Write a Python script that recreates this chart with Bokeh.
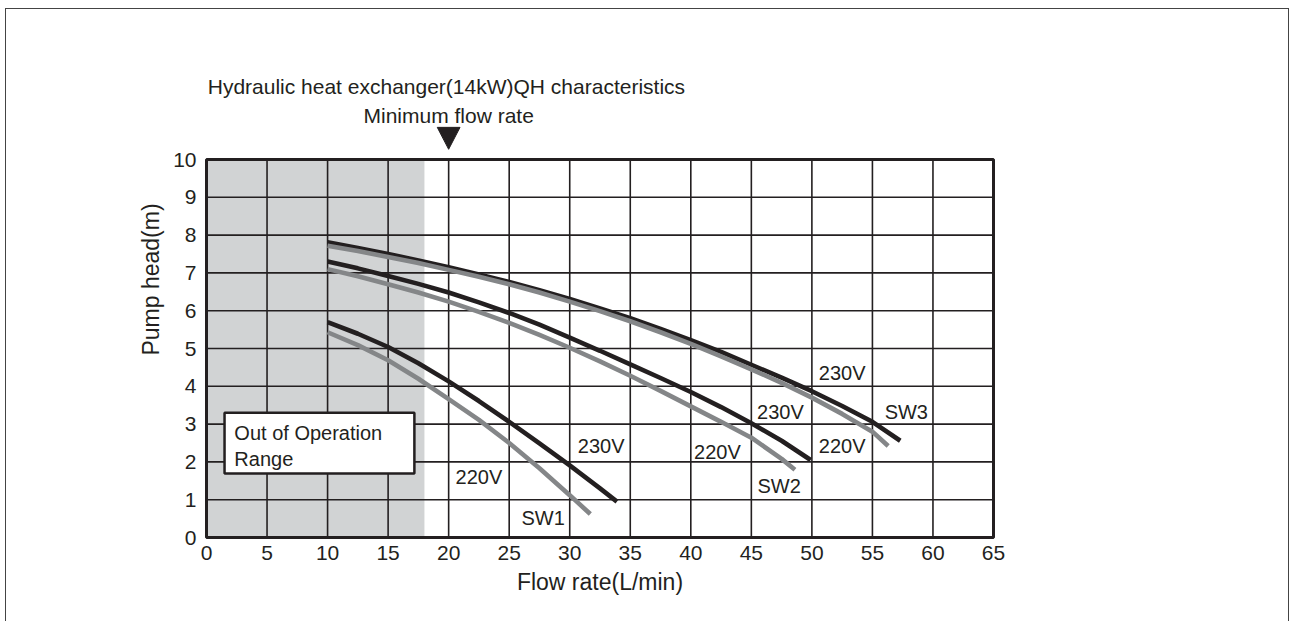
from bokeh.plotting import figure
from bokeh.models import BoxAnnotation, Label, FixedTicker, Range1d
from bokeh.core.properties import value
from bokeh.embed import file_html
from bokeh.resources import INLINE

# ---------------- data ----------------
x_ticks = [0, 5, 10, 15, 20, 25, 30, 35, 40, 45, 50, 55, 60, 65]
y_ticks = [0, 1, 2, 3, 4, 5, 6, 7, 8, 9, 10]
x_min, x_max = 0, 65
y_min, y_max = 0, 10

out_of_range_limit = 18      # L/min, shaded region upper bound
min_flow_rate = 20           # L/min, marker

sw3_230_x = [10, 12.5, 15, 17.5, 20, 22.5, 25, 27.5, 30, 32.5, 35, 37.5, 40, 42.5, 45, 47.5, 50, 52.5, 55, 57.3]
sw3_230_y = [7.81, 7.66, 7.50, 7.33, 7.15, 6.96, 6.76, 6.54, 6.31, 6.06, 5.80, 5.52, 5.22, 4.91, 4.57, 4.23, 3.87, 3.48, 3.06, 2.56]
sw3_220_x = [10, 12.5, 15, 17.5, 20, 22.5, 25, 27.5, 30, 32.5, 35, 37.5, 40, 42.5, 45, 47.5, 50, 52.5, 55, 56.3]
sw3_220_y = [7.72, 7.58, 7.42, 7.26, 7.08, 6.90, 6.70, 6.48, 6.24, 5.99, 5.72, 5.43, 5.12, 4.79, 4.45, 4.09, 3.70, 3.27, 2.80, 2.42]

sw2_230_x = [10, 12.5, 15, 17.5, 20, 22.5, 25, 27.5, 30, 32.5, 35, 37.5, 40, 42.5, 45, 47.5, 49.9]
sw2_230_y = [7.30, 7.12, 6.92, 6.71, 6.48, 6.22, 5.94, 5.63, 5.29, 4.94, 4.58, 4.22, 3.85, 3.45, 3.02, 2.56, 2.05]
sw2_220_x = [10, 12.5, 15, 17.5, 20, 22.5, 25, 27.5, 30, 32.5, 35, 37.5, 40, 42.5, 45, 47.5, 48.6]
sw2_220_y = [7.10, 6.91, 6.70, 6.48, 6.24, 5.97, 5.68, 5.36, 5.02, 4.66, 4.28, 3.88, 3.47, 3.06, 2.64, 2.08, 1.79]

sw1_230_x = [10, 12.5, 15, 17.5, 20, 22.5, 25, 27.5, 30, 32.5, 33.9]
sw1_230_y = [5.70, 5.39, 5.04, 4.61, 4.13, 3.61, 3.06, 2.49, 1.91, 1.30, 0.95]
sw1_220_x = [10, 12.5, 15, 17.5, 20, 22.5, 25, 27.5, 30, 31.7]
sw1_220_y = [5.43, 5.09, 4.69, 4.20, 3.66, 3.11, 2.50, 1.83, 1.12, 0.62]

curve_labels = ["230V", "220V", "SW1", "230V", "220V", "SW2", "230V", "220V", "SW3"]
curve_label_x = [32.6, 22.5, 27.8, 47.4, 42.2, 47.3, 52.5, 52.5, 57.8]
curve_label_y = [2.41, 1.61, 0.52, 3.33, 2.27, 1.37, 4.36, 2.43, 3.32]

title_text = "Hydraulic heat exchanger(14kW)QH characteristics"
min_flow_text = "Minimum flow rate"
out_range_lines = ["Out of Operation", "Range"]

# ---------------- style / layout ----------------
INK = "#231f20"
GREY_CURVE = "#848688"
SHADE = "#d1d3d4"
FONT = "Liberation Sans"

W, H = 1284, 613
PAD = 4                       # px of frame padding around the grid box
GRID_W, GRID_H = 787, 378     # px size of the 0..65 x 0..10 grid box
MBL, MBR, MBB = 196, 293, 81
MBT = H - MBB - GRID_H - 2 * PAD - 138
px_x = GRID_W / (x_max - x_min)
px_y = GRID_H / (y_max - y_min)
frame_h = H - MBT - MBB
x_lo = x_min - PAD / px_x
x_hi = x_max + PAD / px_x
y_lo = y_min - PAD / px_y
y_hi = y_lo + frame_h / px_y

p = figure(width=W, height=H,
           x_range=Range1d(x_lo, x_hi), y_range=Range1d(y_lo, y_hi),
           output_backend="svg", toolbar_location=None,
           min_border_left=MBL, min_border_right=MBR,
           min_border_top=MBT, min_border_bottom=MBB,
           background_fill_color="white", border_fill_color="white")
p.styles = {"border-top": "1px solid #444", "border-left": "1px solid #444",
            "border-right": "1px solid #444", "margin-left": "5px", "margin-top": "8px"}
p.outline_line_color = None
p.xgrid.visible = False
p.ygrid.visible = False

for ax in (p.xaxis, p.yaxis):
    ax.axis_line_color = None
    ax.major_tick_line_color = None
    ax.minor_tick_line_color = None
    ax.major_tick_out = 0
    ax.major_tick_in = 0
    ax.major_label_text_font = FONT
    ax.major_label_text_font_size = "21px"
    ax.major_label_text_color = INK
    ax.axis_label_text_font = FONT
    ax.axis_label_text_font_size = "23px"
    ax.axis_label_text_font_style = "normal"
    ax.axis_label_text_color = INK

p.xaxis.bounds = (x_min, x_max)
p.yaxis.bounds = (y_min, y_max)
p.xaxis.ticker = FixedTicker(ticks=x_ticks)
p.yaxis.ticker = FixedTicker(ticks=y_ticks)
p.xaxis.major_label_standoff = 4
p.yaxis.major_label_standoff = 6
p.xaxis.axis_label = "Flow rate(L/min)"
p.yaxis.axis_label = "Pump head(m)"
p.xaxis.axis_label_standoff = 6
p.yaxis.axis_label_standoff = 6

# shaded out-of-operation region
p.add_layout(BoxAnnotation(left=x_min, right=out_of_range_limit, bottom=y_min, top=y_max,
                           fill_color=SHADE, fill_alpha=1.0, line_color=None,
                           level="image"))

# grid lines, bounded to the 0..65 x 0..10 box
GLW = 1.6
p.segment(x0=x_ticks, y0=[y_min] * len(x_ticks), x1=x_ticks, y1=[y_max] * len(x_ticks),
          line_color=INK, line_width=GLW)
p.segment(x0=[x_min] * len(y_ticks), y0=y_ticks, x1=[x_max] * len(y_ticks), y1=y_ticks,
          line_color=INK, line_width=GLW)

# curves
LW = 4.6
p.line(sw3_230_x, sw3_230_y, line_color=INK, line_width=LW)
p.line(sw3_220_x, sw3_220_y, line_color=GREY_CURVE, line_width=LW)
p.line(sw2_230_x, sw2_230_y, line_color=INK, line_width=LW)
p.line(sw2_220_x, sw2_220_y, line_color=GREY_CURVE, line_width=LW)
p.line(sw1_230_x, sw1_230_y, line_color=INK, line_width=LW)
p.line(sw1_220_x, sw1_220_y, line_color=GREY_CURVE, line_width=LW)

# grid box border
p.add_layout(BoxAnnotation(left=x_min, right=x_max, bottom=y_min, top=y_max,
                           fill_color=None, fill_alpha=0, line_color=INK,
                           line_width=3, line_alpha=1.0))

# curve labels
for t, lx, ly in zip(curve_labels, curve_label_x, curve_label_y):
    p.add_layout(Label(x=lx, y=ly, text=t, text_align="center", text_baseline="middle",
                       text_font=FONT, text_font_size="20px", text_color=INK))

# Out of operation box
p.add_layout(BoxAnnotation(left=1.49, right=17.17, bottom=1.69, top=3.30,
                           fill_color="white", fill_alpha=1.0,
                           line_color=INK, line_width=2.5, line_alpha=1.0))
p.add_layout(Label(x=2.3, y=2.77, text=out_range_lines[0], text_align="left",
                   text_baseline="middle", text_font=FONT, text_font_size="20px",
                   text_color=INK))
p.add_layout(Label(x=2.3, y=2.08, text=out_range_lines[1], text_align="left",
                   text_baseline="middle", text_font=FONT, text_font_size="20px",
                   text_color=INK))

# title and minimum-flow marker above the grid box
p.text(x=[0.1], y=[11.93], text=[title_text], text_align="left", text_baseline="middle",
       text_font=value(FONT), text_font_size="21px", text_color=INK)
p.text(x=[min_flow_rate], y=[11.17], text=[min_flow_text], text_align="center",
       text_baseline="middle", text_font=value(FONT), text_font_size="21px", text_color=INK)
tri_half = 0.94
p.patch(x=[min_flow_rate - tri_half, min_flow_rate + tri_half, min_flow_rate],
        y=[10.85, 10.85, 10.27], fill_color=INK, line_color=INK)

open("out.html", "w").write(file_html(p, INLINE))
